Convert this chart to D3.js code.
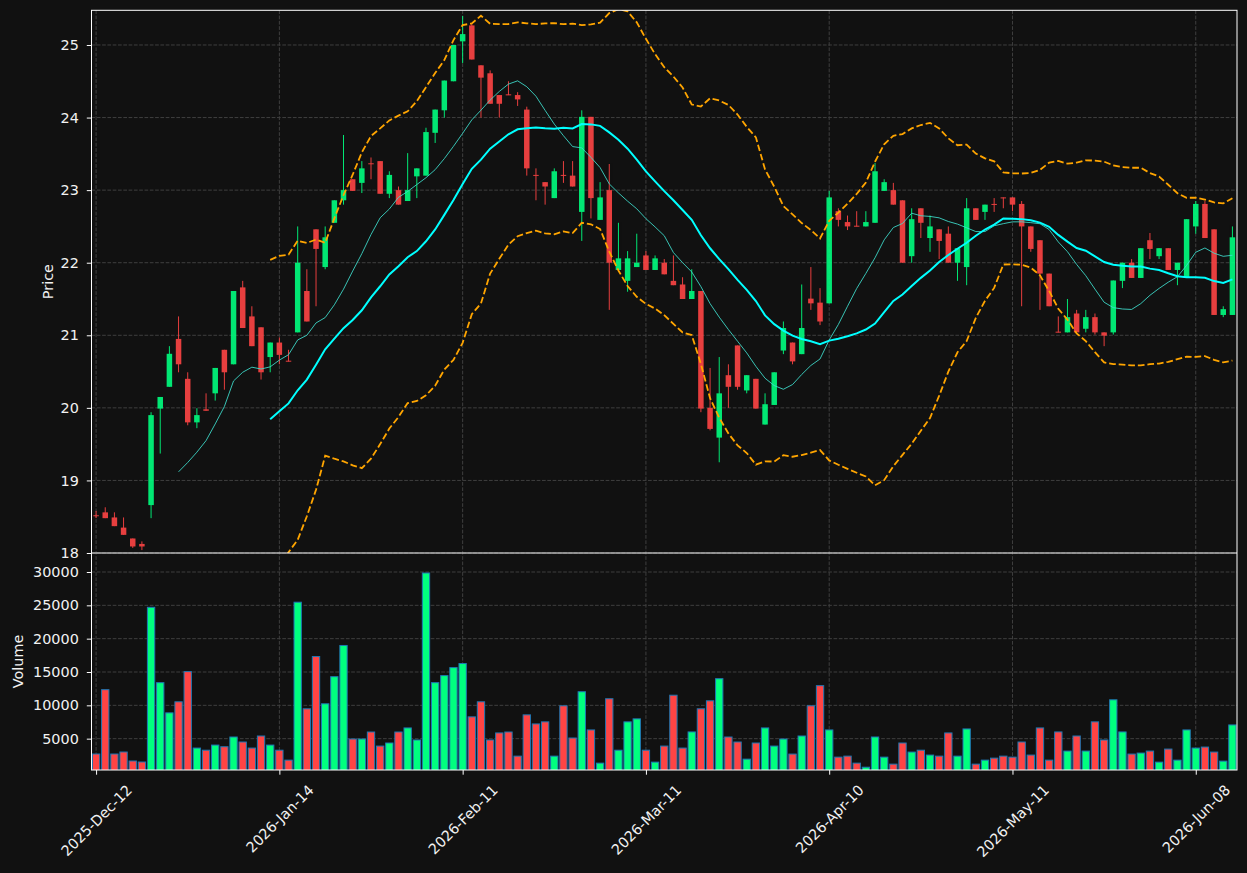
<!DOCTYPE html>
<html>
<head>
<meta charset="utf-8">
<script src="https://cdn.jsdelivr.net/npm/d3@7"></script>
<style>
  body { margin: 0; background: #111111; }
  text { font-family: "DejaVu Sans", sans-serif; }
</style>
</head>
<body>
<div id="d3-container"></div>
<script>
//CONSTANTS AND GLOBALS
const width = 1247,
  height = 873,
  frame = { left: 91.5, right: 1237, top: 10.3, mid: 553, bottom: 770 },
  upColor = "#00ff7f",
  downColor = "#ff4444",
  textColor = "#f2f2f2",
  fontSize = "14.4px",
  gridColor = "#3f3f3f";

// DATA
const startDate = "2025-12-12";
const holidays = ["2025-12-25", "2025-12-26", "2026-01-01", "2026-04-03", "2026-04-06", "2026-05-01"];

const opens = [
  18.52, 18.56, 18.49, 18.35, 18.20, 18.125, 18.66, 19.99, 20.29, 20.95,
  20.40, 19.80, 19.98, 20.20, 20.80, 20.60, 21.66, 21.26, 21.11, 20.70,
  20.90, 20.65, 21.04, 21.61, 22.46, 21.94, 22.55, 22.86, 23.15, 23.10,
  23.37, 23.40, 22.95, 23.00, 22.85, 23.19, 23.20, 23.79, 24.10, 24.50,
  25.05, 25.27, 24.72, 24.61, 24.31, 24.32, 24.31, 24.11, 23.21, 23.11,
  22.89, 23.21, 23.20, 22.70, 24.01, 22.59, 23.00, 21.90, 21.75, 21.94,
  22.10, 21.90, 22.00, 21.75, 21.70, 21.50, 21.61, 20.00, 19.59, 20.45,
  20.86, 20.24, 20.40, 19.77, 20.04, 20.79, 20.90, 20.74, 21.505, 21.45,
  21.44, 22.71, 22.56, 22.51, 22.50, 22.55, 22.99, 23.00, 22.86, 22.09,
  22.75, 22.34, 22.46, 22.40, 22.00, 21.94, 22.75, 22.70, 22.81, 22.90,
  22.90, 22.81, 22.50, 22.31, 21.85, 21.05, 21.04, 21.30, 21.09, 21.25,
  21.04, 21.04, 21.75, 22.00, 21.79, 22.31, 22.09, 22.20, 21.90, 21.79,
  22.50, 22.81, 22.46, 21.28, 21.28
];
const highs = [
  18.58, 18.63, 18.56, 18.49, 18.20, 18.16, 19.94, 20.15, 20.85, 21.26,
  20.49, 19.995, 20.20, 20.55, 20.80, 21.61, 21.75, 21.40, 21.11, 20.90,
  20.97, 20.80, 22.50, 21.91, 22.46, 22.50, 22.86, 23.76, 23.15, 23.40,
  23.45, 23.40, 23.26, 23.05, 23.51, 23.30, 23.86, 24.11, 24.51, 25.00,
  25.40, 25.30, 24.72, 24.65, 24.31, 24.50, 24.35, 24.15, 23.30, 23.11,
  23.30, 23.40, 23.40, 24.10, 24.01, 23.11, 23.36, 22.55, 22.16, 22.40,
  22.16, 22.10, 22.05, 22.10, 21.80, 21.91, 21.61, 20.55, 20.70, 20.60,
  20.86, 20.45, 20.40, 20.20, 20.49, 21.19, 20.90, 21.70, 21.94, 21.65,
  22.99, 22.75, 22.65, 22.71, 22.71, 23.375, 23.15, 23.10, 22.86, 22.75,
  22.75, 22.65, 22.46, 22.50, 22.20, 22.89, 22.75, 22.80, 22.89, 22.90,
  22.90, 22.85, 22.50, 22.31, 21.85, 21.26, 21.50, 21.35, 21.35, 21.30,
  21.04, 21.755, 22.00, 22.05, 22.20, 22.41, 22.20, 22.20, 22.00, 22.60,
  22.85, 22.85, 22.46, 21.40, 22.50
];
const lows = [
  18.48, 18.48, 18.37, 18.25, 18.07, 18.04, 18.48, 19.37, 20.29, 20.49,
  19.76, 19.72, 19.96, 20.10, 20.25, 20.60, 21.10, 20.85, 20.39, 20.49,
  20.60, 20.64, 21.04, 21.19, 21.40, 21.91, 22.55, 22.80, 22.99, 22.96,
  23.15, 22.95, 22.89, 22.80, 22.85, 22.89, 23.20, 23.65, 24.00, 24.50,
  24.75, 24.80, 24.00, 24.19, 24.00, 24.31, 24.16, 23.20, 22.86, 22.80,
  22.89, 23.10, 23.05, 22.30, 22.61, 22.59, 21.35, 21.90, 21.60, 21.94,
  21.90, 21.90, 21.84, 21.69, 21.50, 21.50, 19.94, 19.69, 19.25, 20.00,
  20.25, 20.20, 19.99, 19.77, 20.04, 20.74, 20.60, 20.74, 21.35, 21.14,
  21.44, 22.50, 22.45, 22.50, 22.50, 22.55, 22.99, 22.80, 22.00, 22.00,
  22.34, 22.15, 22.05, 22.00, 21.75, 21.69, 22.59, 22.59, 22.70, 22.75,
  22.71, 21.40, 22.15, 21.35, 21.40, 21.04, 21.04, 21.04, 21.04, 21.01,
  20.85, 21.01, 21.65, 21.79, 21.79, 22.05, 22.05, 21.90, 21.69, 21.79,
  22.40, 22.34, 21.28, 21.25, 21.28
];
const closes = [
  18.51, 18.48, 18.37, 18.25, 18.09, 18.09, 19.90, 20.15, 20.745, 20.60,
  19.80, 19.90, 19.96, 20.55, 20.49, 21.61, 21.10, 20.85, 20.49, 20.90,
  20.73, 20.64, 22.00, 21.19, 22.19, 22.35, 22.86, 23.00, 22.99, 23.30,
  23.36, 22.95, 23.21, 22.80, 23.00, 23.30, 23.80, 24.11, 24.51, 25.00,
  25.15, 24.80, 24.55, 24.19, 24.19, 24.31, 24.25, 23.30, 23.20, 23.05,
  23.26, 23.20, 23.05, 24.01, 22.89, 22.90, 22.00, 22.06, 22.06, 22.00,
  21.90, 22.06, 21.84, 21.69, 21.50, 21.61, 19.99, 19.71, 20.20, 20.29,
  20.29, 20.45, 19.99, 20.05, 20.49, 21.10, 20.64, 21.10, 21.44, 21.19,
  22.90, 22.59, 22.50, 22.50, 22.56, 23.26, 23.11, 22.80, 22.00, 22.60,
  22.55, 22.50, 22.30, 22.00, 22.20, 22.75, 22.59, 22.80, 22.80, 22.89,
  22.80, 22.50, 22.19, 21.85, 21.40, 21.04, 21.25, 21.04, 21.25, 21.04,
  20.995, 21.755, 22.00, 21.79, 22.20, 22.19, 22.20, 21.90, 22.00, 22.60,
  22.81, 22.34, 21.28, 21.36, 22.35
];
const volumes = [
  2700, 12350, 2700, 3000, 1650, 1500, 24700, 13400, 8870, 10530,
  15060, 3590, 3270, 4040, 3790, 5250, 4500, 3590, 5400, 4040,
  3270, 1780, 25470, 9480, 17320, 10230, 14300, 18980, 4950, 4950,
  6000, 3890, 4350, 6000, 6610, 4800, 29850, 13400, 14460, 15660,
  16270, 8270, 10530, 4800, 5860, 6000, 2380, 8570, 7210, 7520,
  2380, 9930, 5100, 12040, 6310, 1330, 10990, 3270, 7520, 7970,
  3270, 1480, 3890, 11520, 3590, 6010, 9480, 10680, 14000, 5250,
  4500, 1930, 4350, 6610, 3890, 4950, 2690, 5400, 9930, 12950,
  6310, 2230, 2380, 1330, 720, 5250, 2230, 1180, 4350, 2990,
  3270, 2540, 2380, 5860, 2380, 6460, 1180, 1780, 2080, 2380,
  2230, 4500, 2540, 6610, 1780, 6010, 3140, 5400, 3140, 7520,
  4800, 10830, 6010, 2690, 2840, 3140, 1480, 3440, 1780, 6310,
  3590, 3740, 2990, 1630, 7060
];

const priceTicks = [18, 19, 20, 21, 22, 23, 24, 25];
const volumeTicks = [5000, 10000, 15000, 20000, 25000, 30000];
const tickEvery = 20;

let svg;
let xScale, yPrice, yVolume;

// trading days: weekdays minus the listed holidays
function tradingDays(start, n, skip) {
  const parse = d3.timeParse("%Y-%m-%d"), fmt = d3.timeFormat("%Y-%m-%d");
  const out = [];
  let d = parse(start);
  while (out.length < n) {
    if (d.getDay() !== 0 && d.getDay() !== 6 && !skip.includes(fmt(d))) out.push(d);
    d = d3.timeDay.offset(d, 1);
  }
  return out;
}

// rolling mean / std of the closes (nulls before the window fills)
function rolling(arr, n, fn) {
  return arr.map((_, i) => (i < n - 1 ? null : fn(arr.slice(i - n + 1, i + 1))));
}
const mean = a => d3.mean(a);
const pstd = a => { const m = d3.mean(a); return Math.sqrt(d3.mean(a, v => (v - m) * (v - m))); };

const dates = tradingDays(startDate, closes.length, holidays);
const candles = dates.map((d, i) => ({
  i, date: d, open: opens[i], high: highs[i], low: lows[i], close: closes[i], volume: volumes[i]
}));
const ma10 = rolling(closes, 10, mean);
const ma20 = rolling(closes, 20, mean);
const sd20 = rolling(closes, 20, pstd);
const upperBand = ma20.map((m, i) => (m === null ? null : m + 2 * sd20[i]));
const lowerBand = ma20.map((m, i) => (m === null ? null : m - 2 * sd20[i]));

init();

//INITIALIZING FUNCTION
function init() {
  // SCALES
  xScale = d3.scaleLinear()
    .domain([-0.5, candles.length - 0.5])
    .range([frame.left, frame.right]);

  yPrice = d3.scaleLinear()
    .domain([18, 25.478])
    .range([frame.mid, frame.top]);

  yVolume = d3.scaleLinear()
    .domain([300, 32850])
    .range([frame.bottom, frame.mid]);

  svg = d3.select("#d3-container")
    .append("svg")
    .attr("width", width)
    .attr("height", height)
    .style("background", "#111111");

  const defs = svg.append("defs");
  defs.append("clipPath").attr("id", "clip-price")
    .append("rect")
    .attr("x", frame.left).attr("y", frame.top)
    .attr("width", frame.right - frame.left).attr("height", frame.mid - frame.top);
  defs.append("clipPath").attr("id", "clip-volume")
    .append("rect")
    .attr("x", frame.left).attr("y", frame.mid)
    .attr("width", frame.right - frame.left).attr("height", frame.bottom - frame.mid);

  drawGrid();
  draw();
  drawAxes();
}

// GRID
function drawGrid() {
  const tickIdx = d3.range(0, candles.length, tickEvery);
  const g = svg.append("g")
    .attr("stroke", gridColor)
    .attr("stroke-width", 1)
    .attr("stroke-dasharray", "3.7,1.6");

  g.selectAll(".hp")
    .data(priceTicks)
    .join("line")
    .attr("class", "hp")
    .attr("x1", frame.left).attr("x2", frame.right)
    .attr("y1", d => yPrice(d)).attr("y2", d => yPrice(d));

  g.selectAll(".hv")
    .data(volumeTicks)
    .join("line")
    .attr("class", "hv")
    .attr("x1", frame.left).attr("x2", frame.right)
    .attr("y1", d => yVolume(d)).attr("y2", d => yVolume(d));

  g.selectAll(".vx")
    .data(tickIdx)
    .join("line")
    .attr("class", "vx")
    .attr("x1", d => xScale(d)).attr("x2", d => xScale(d))
    .attr("y1", frame.top).attr("y2", frame.bottom);
}

//DRAW FUNCTION
function draw() {
  const step = xScale(1) - xScale(0);
  const bodyW = step * 0.6;
  const barW = step * 0.8;
  const colorOf = d => (d.close >= d.open ? upColor : downColor);

  // volume bars
  svg.append("g")
    .attr("clip-path", "url(#clip-volume)")
    .selectAll("rect")
    .data(candles)
    .join("rect")
    .attr("x", d => xScale(d.i) - barW / 2)
    .attr("width", barW)
    .attr("y", d => yVolume(d.volume))
    .attr("height", d => yVolume(0) - yVolume(d.volume))
    .attr("fill", colorOf)
    .attr("stroke", "#1f77b4")
    .attr("stroke-width", 1);

  const price = svg.append("g").attr("clip-path", "url(#clip-price)");

  // candles
  const c = price.append("g")
    .selectAll("g")
    .data(candles)
    .join("g")
    .attr("opacity", 0.9);

  c.append("line")
    .attr("x1", d => xScale(d.i)).attr("x2", d => xScale(d.i))
    .attr("y1", d => yPrice(d.high)).attr("y2", d => yPrice(d.low))
    .attr("stroke", colorOf)
    .attr("stroke-width", 1);

  c.append("rect")
    .attr("x", d => xScale(d.i) - bodyW / 2)
    .attr("width", bodyW)
    .attr("y", d => yPrice(Math.max(d.open, d.close)))
    .attr("height", d => Math.max(1, Math.abs(yPrice(d.open) - yPrice(d.close))))
    .attr("fill", colorOf);

  // indicator lines
  const line = d3.line()
    .defined(d => d !== null)
    .x((d, i) => xScale(i))
    .y(d => yPrice(d));

  price.append("path")
    .datum(upperBand)
    .attr("d", line)
    .attr("fill", "none")
    .attr("stroke", "#ffa500")
    .attr("stroke-width", 1.8)
    .attr("stroke-dasharray", "6.7,2.9");

  price.append("path")
    .datum(lowerBand)
    .attr("d", line)
    .attr("fill", "none")
    .attr("stroke", "#ffa500")
    .attr("stroke-width", 1.8)
    .attr("stroke-dasharray", "6.7,2.9");

  price.append("path")
    .datum(ma10)
    .attr("d", line)
    .attr("fill", "none")
    .attr("stroke", "#40e0d0")
    .attr("stroke-opacity", 0.85)
    .attr("stroke-width", 1);

  price.append("path")
    .datum(ma20)
    .attr("d", line)
    .attr("fill", "none")
    .attr("stroke", "#00ffff")
    .attr("stroke-width", 2);
}

// AXES AND FRAME
function drawAxes() {
  const tickIdx = d3.range(0, candles.length, tickEvery);
  const fmt = d3.timeFormat("%Y-%b-%d");

  const styleAxis = g => {
    g.select(".domain").remove();
    g.selectAll(".tick line").attr("stroke", "white");
    g.selectAll(".tick text")
      .attr("fill", textColor)
      .style("font-size", fontSize)
      .style("font-family", "'DejaVu Sans', sans-serif");
  };

  svg.append("g")
    .attr("transform", `translate(${frame.left},0)`)
    .call(d3.axisLeft(yPrice).tickValues(priceTicks).tickSize(4.7).tickPadding(8).tickFormat(d3.format("d")))
    .call(styleAxis);

  svg.append("g")
    .attr("transform", `translate(${frame.left},0)`)
    .call(d3.axisLeft(yVolume).tickValues(volumeTicks).tickSize(4.7).tickPadding(8).tickFormat(d3.format("d")))
    .call(styleAxis);

  const xg = svg.append("g")
    .attr("transform", `translate(0,${frame.bottom})`)
    .call(d3.axisBottom(xScale).tickValues(tickIdx).tickSize(4.7).tickFormat(i => fmt(dates[i])))
    .call(styleAxis);

  xg.selectAll(".tick text")
    .attr("text-anchor", "middle")
    .attr("dy", null)
    .attr("y", null)
    .attr("dominant-baseline", "central")
    .attr("transform", function () {
      const w = this.getComputedTextLength();
      const half = (w + 10) * Math.SQRT1_2 / 2;
      return `translate(0,${14 + half}) rotate(-45)`;
    });

  // spines
  const spines = svg.append("g").attr("stroke", "white").attr("stroke-width", 1).attr("fill", "none");
  spines.append("rect")
    .attr("x", frame.left).attr("y", frame.top)
    .attr("width", frame.right - frame.left).attr("height", frame.bottom - frame.top);
  spines.append("line")
    .attr("x1", frame.left).attr("x2", frame.right)
    .attr("y1", frame.mid).attr("y2", frame.mid);

  // axis titles
  svg.append("text")
    .attr("transform", `translate(53,${(frame.top + frame.mid) / 2}) rotate(-90)`)
    .attr("text-anchor", "middle")
    .attr("fill", textColor)
    .style("font-size", fontSize)
    .text("Price");

  svg.append("text")
    .attr("transform", `translate(23,${(frame.mid + frame.bottom) / 2}) rotate(-90)`)
    .attr("text-anchor", "middle")
    .attr("fill", textColor)
    .style("font-size", fontSize)
    .text("Volume");
}
</script>
</body>
</html>
